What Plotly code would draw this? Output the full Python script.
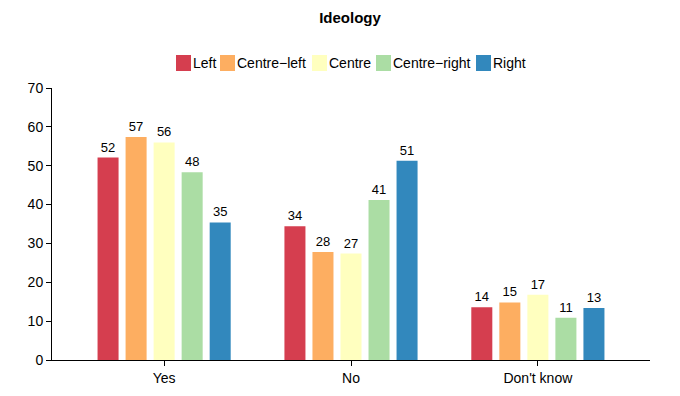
import plotly.graph_objects as go

categories = ["Yes", "No", "Don't know"]
series_names = ["Left", "Centre\u2212left", "Centre", "Centre\u2212right", "Right"]
left = [52.1, 34.4, 13.6]
centre_left = [57.4, 27.8, 14.8]
centre = [56.0, 27.4, 16.8]
centre_right = [48.3, 41.2, 10.9]
right = [35.4, 51.3, 13.4]
colors = ["#D53E4F", "#FDAE61", "#FFFFBF", "#ABDDA4", "#3288BD"]
y_ticks = [0, 10, 20, 30, 40, 50, 60, 70]

series = [left, centre_left, centre, centre_right, right]

# layout geometry (pixels)
W, H = 680, 396
ML, MR, MT, MB = 52, 30, 88, 36
PW, PH = W - ML - MR, H - MT - MB
legend_swatch_px = [176, 220, 312, 376, 476]
legend_y_px = 63


def px_x(p):
    return (p - ML) / PW


def px_y(p):
    return (H - MB - p) / PH


fig = go.Figure()
for name, vals, col in zip(series_names, series, colors):
    fig.add_trace(go.Bar(
        x=categories, y=vals, name=name,
        marker=dict(color=col, line=dict(width=0)),
        text=[f"{v:.0f}" for v in vals],
        textposition="outside",
        textfont=dict(size=13, color="#000000"),
        cliponaxis=False,
        showlegend=False,
        hoverinfo="skip",
    ))

# custom compact legend
shapes = []
annotations = []
for name, col, sx in zip(series_names, colors, legend_swatch_px):
    shapes.append(dict(type="rect", xref="paper", yref="paper",
                       x0=px_x(sx), x1=px_x(sx + 15),
                       y0=px_y(legend_y_px + 8), y1=px_y(legend_y_px - 8),
                       fillcolor=col, line=dict(width=0)))
    annotations.append(dict(text=name, xref="paper", yref="paper",
                            x=px_x(sx + 16), y=px_y(legend_y_px),
                            xanchor="left", yanchor="middle", showarrow=False,
                            font=dict(size=14, color="#000000"),
                            borderpad=0))

font_family = "Liberation Sans, Arial, sans-serif"
fig.update_layout(
    width=W, height=H,
    margin=dict(l=ML, r=MR, t=MT, b=MB, autoexpand=False),
    paper_bgcolor="white", plot_bgcolor="white",
    font=dict(family=font_family, size=14, color="#000000"),
    barmode="group", bargap=0.25, bargroupgap=0.25,
    title=dict(text="<b>Ideology</b>", x=350 / W, xanchor="center",
               y=1 - 18 / H, yanchor="middle", yref="container",
               font=dict(size=15, color="#000000")),
    showlegend=False,
    shapes=shapes,
    annotations=annotations,
)
fig.update_xaxes(range=[-0.6, 2.6], showline=True, linecolor="#000000",
                 linewidth=1, ticks="outside", ticklen=5, tickcolor="#000000",
                 showgrid=False, zeroline=False, tickfont=dict(size=14),
                 automargin=False, fixedrange=True)
fig.update_yaxes(range=[0, 70], tickvals=y_ticks, showline=True,
                 linecolor="#000000", linewidth=1, ticks="outside", ticklen=5,
                 tickcolor="#000000", showgrid=False, zeroline=False,
                 tickfont=dict(size=14), automargin=False, fixedrange=True)

fig.write_html("out.html", config={"displayModeBar": False, "staticPlot": True})

# remove default page margin so the figure sits at the window origin
with open("out.html", "r", encoding="utf-8") as f:
    html = f.read()
html = html.replace("<head>", "<head><style>html,body{margin:0;padding:0;overflow:hidden;}</style>", 1)
with open("out.html", "w", encoding="utf-8") as f:
    f.write(html)
